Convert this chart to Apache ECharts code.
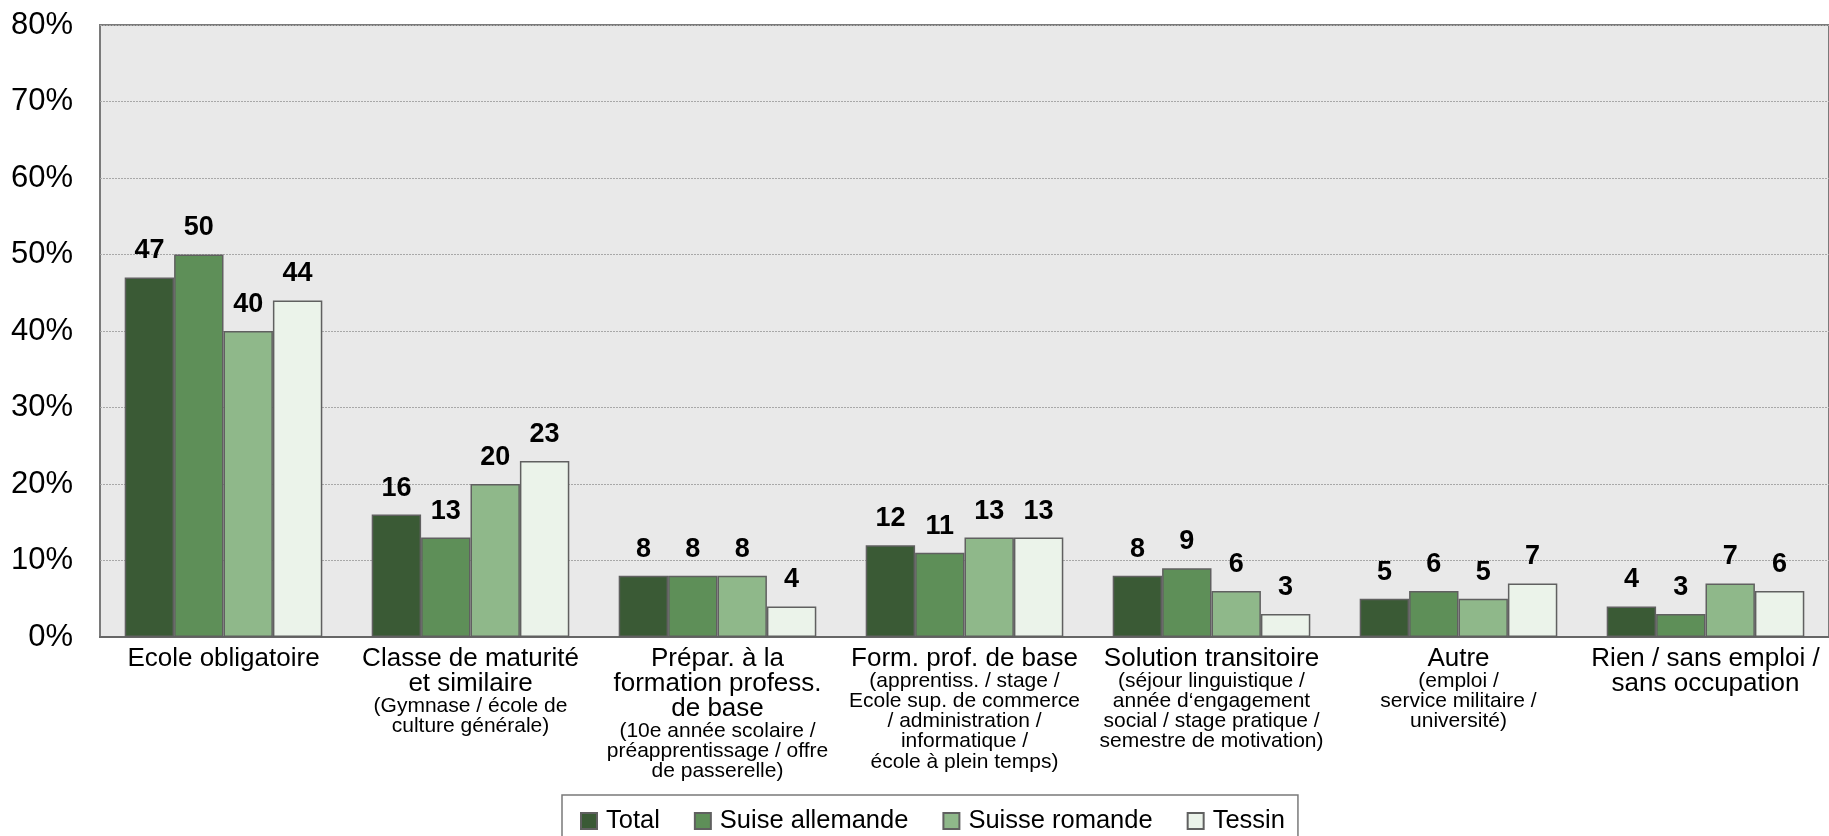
<!DOCTYPE html>
<html>
<head>
<meta charset="utf-8">
<script src="https://cdn.jsdelivr.net/npm/echarts@6/dist/echarts.min.js"></script>
<style>
html,body{margin:0;padding:0;background:#fff;}
#chart{width:1829px;height:836px;}
</style>
</head>
<body>
<div id="chart"></div>
<script>
const categoryMain = [
  "Ecole obligatoire",
  "Classe de maturité\net similaire",
  "Prépar. à la\nformation profess.\nde base",
  "Form. prof. de base",
  "Solution transitoire",
  "Autre",
  "Rien / sans emploi /\nsans occupation"
];
const categorySub = [
  "",
  "(Gymnase / école de\nculture générale)",
  "(10e année scolaire /\npréapprentissage / offre\nde passerelle)",
  "(apprentiss. / stage /\nEcole sup. de commerce\n/ administration /\ninformatique /\nécole à plein temps)",
  "(séjour linguistique /\nannée d‘engagement\nsocial / stage pratique /\nsemestre de motivation)",
  "(emploi /\nservice militaire /\nuniversité)",
  ""
];
const seriesNames = ["Total", "Suise allemande", "Suisse romande", "Tessin"];
const totalValues = [47, 16, 8, 12, 8, 5, 4];
const allemandeValues = [50, 13, 8, 11, 9, 6, 3];
const romandeValues = [40, 20, 8, 13, 6, 5, 7];
const tessinValues = [44, 23, 4, 13, 3, 7, 6];
const yTicks = [0, 10, 20, 30, 40, 50, 60, 70, 80];

const colors = ["#3a5a35", "#5e8f58", "#8fb88a", "#ebf3ea"];
const FONT = "'Liberation Sans', Arial, Helvetica, sans-serif";

function mkSeries(name, data, color) {
  return {
    name: name,
    type: "bar",
    data: data,
    barGap: "0%",
    barCategoryGap: "20%",
    itemStyle: { color: color, borderColor: "#606060", borderWidth: 1.5 },
    label: {
      show: true,
      position: "top",
      distance: 13,
      fontFamily: FONT,
      fontWeight: "bold",
      fontSize: 27,
      color: "#000"
    }
  };
}

const chart = echarts.init(document.getElementById("chart"), null, { renderer: "canvas" });
chart.setOption({
  animation: false,
  backgroundColor: "#ffffff",
  textStyle: { fontFamily: FONT },
  grid: {
    left: 100, top: 25, right: -3, bottom: 199,
    show: true,
    backgroundColor: "#e9e9e9",
    borderColor: "#7a7a7a",
    borderWidth: 2
  },
  legend: {
    data: seriesNames,
    left: 562,
    top: 795,
    orient: "horizontal",
    icon: "rect",
    itemWidth: 16,
    itemHeight: 16,
    itemGap: 34,
    padding: [13, 13, 25, 18],
    borderColor: "#7a7a7a",
    borderWidth: 1.5,
    textStyle: { fontFamily: FONT, fontSize: 25.5, color: "#000", padding: [0, 0, 0, 4] }
  },
  xAxis: {
    type: "category",
    data: categoryMain,
    axisTick: { show: false },
    axisLine: { show: true, lineStyle: { color: "#666", width: 2 } },
    axisLabel: {
      interval: 0,
      margin: 9,
      color: "#000",
      formatter: function (value, idx) {
        let s = categoryMain[idx].split("\n").map(l => "{m|" + l + "}").join("\n");
        if (categorySub[idx]) {
          s += "\n" + categorySub[idx].split("\n").map(l => "{s|" + l + "}").join("\n");
        }
        return s;
      },
      rich: {
        m: { fontFamily: FONT, fontSize: 26, lineHeight: 25, color: "#000", align: "center" },
        s: { fontFamily: FONT, fontSize: 21, lineHeight: 20.2, color: "#000", align: "center" }
      }
    }
  },
  yAxis: {
    type: "value",
    min: yTicks[0],
    max: yTicks[yTicks.length - 1],
    interval: 10,
    axisLine: { show: false },
    axisTick: { show: false },
    splitLine: { show: true, lineStyle: { color: "#a8a8a8", width: 1, type: [2, 1] } },
    axisLabel: {
      formatter: "{value}%",
      fontFamily: FONT,
      fontSize: 31,
      color: "#000",
      margin: 27
    }
  },
  series: [
    mkSeries(seriesNames[0], totalValues, colors[0]),
    mkSeries(seriesNames[1], allemandeValues, colors[1]),
    mkSeries(seriesNames[2], romandeValues, colors[2]),
    mkSeries(seriesNames[3], tessinValues, colors[3])
  ]
});
</script>
</body>
</html>
